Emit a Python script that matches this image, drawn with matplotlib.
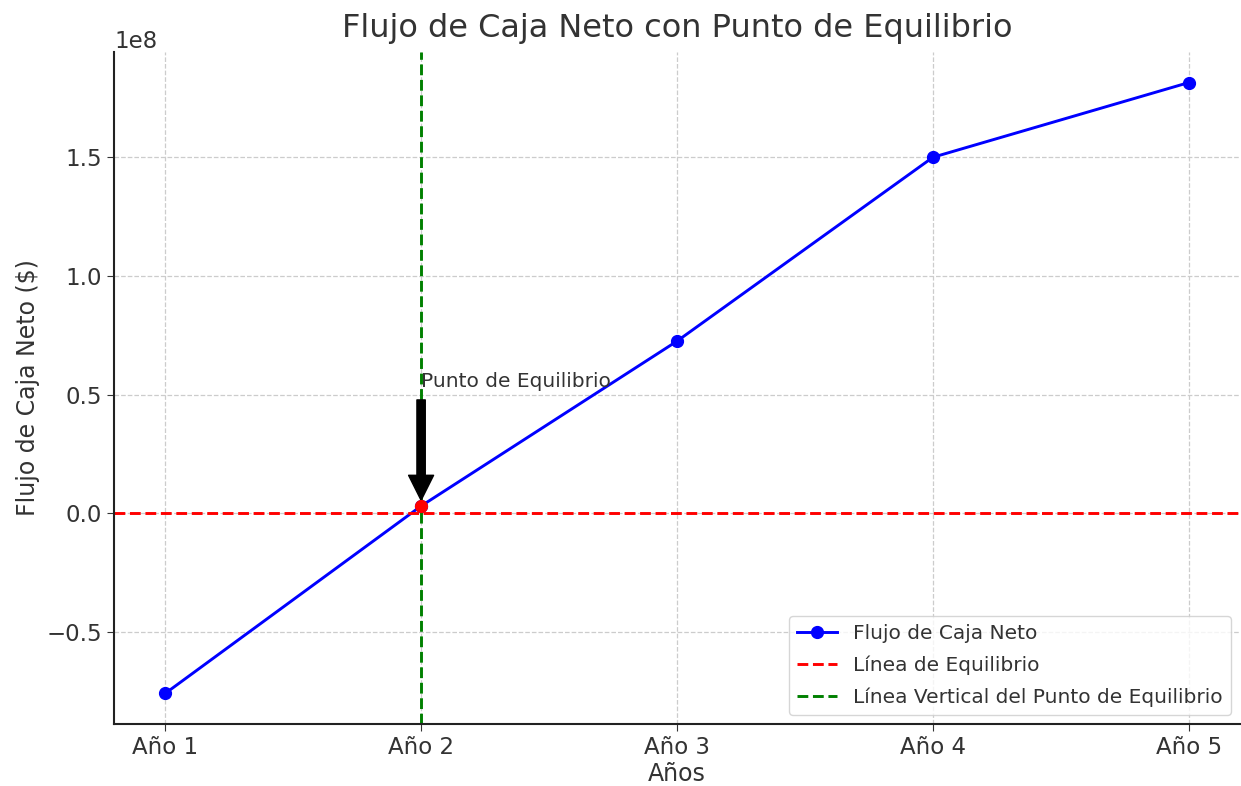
import matplotlib
matplotlib.use("Agg")
import matplotlib.pyplot as plt

years = ["Año 1", "Año 2", "Año 3", "Año 4", "Año 5"]
flujo = [-7.6e7, 3.0e6, 7.25e7, 1.5e8, 1.815e8]
equilibrio_idx = 1
equilibrio_val = 3.0e6
annot_y = 5.3e7

txt = "#333333"
plt.rcParams.update({
    "font.family": "DejaVu Sans",
    "text.color": txt,
    "axes.labelcolor": txt,
    "xtick.color": txt,
    "ytick.color": txt,
    "axes.edgecolor": "#222222",
    "xtick.major.size": 5,
    "ytick.major.size": 5,
})

fig = plt.figure(figsize=(12.41, 7.86), dpi=100)
ax = fig.add_axes([114/1241, 1 - 724/786, (1240-114)/1241, (724-52)/786])

x = list(range(len(years)))
ax.plot(x, flujo, marker="o", color="blue", linewidth=2.1, markersize=8.5, label="Flujo de Caja Neto")
ax.axhline(0, color="red", linestyle="--", linewidth=2.1, label="Línea de Equilibrio")
ax.axvline(equilibrio_idx, color="green", linestyle="--", linewidth=2.1,
           label="Línea Vertical del Punto de Equilibrio")
ax.plot([equilibrio_idx], [equilibrio_val], "o", color="red", markersize=8.5, zorder=5)
ax.annotate("Punto de Equilibrio", xy=(equilibrio_idx, equilibrio_val),
            xytext=(equilibrio_idx, annot_y), fontsize=14.5,
            arrowprops=dict(facecolor="black", shrink=0.05, width=6, headwidth=18, headlength=18))

ax.set_xticks(x)
ax.set_xticklabels(years)
ax.set_title("Flujo de Caja Neto con Punto de Equilibrio", fontsize=23, pad=11)
ax.set_xlabel("Años", fontsize=17, labelpad=2)
ax.set_ylabel("Flujo de Caja Neto ($)", fontsize=17, labelpad=5)
ax.tick_params(labelsize=16.5)
ax.yaxis.get_offset_text().set_fontsize(16.5)
ax.grid(True, linestyle="--", color="#cccccc", linewidth=0.9)
ax.spines["top"].set_visible(False)
ax.spines["right"].set_visible(False)
ax.spines["left"].set_linewidth(1.5)
ax.spines["bottom"].set_linewidth(1.5)
ax.legend(loc="lower right", fontsize=14.5, borderaxespad=0.45, labelspacing=0.62)

fig.savefig("out.png", dpi=100)
